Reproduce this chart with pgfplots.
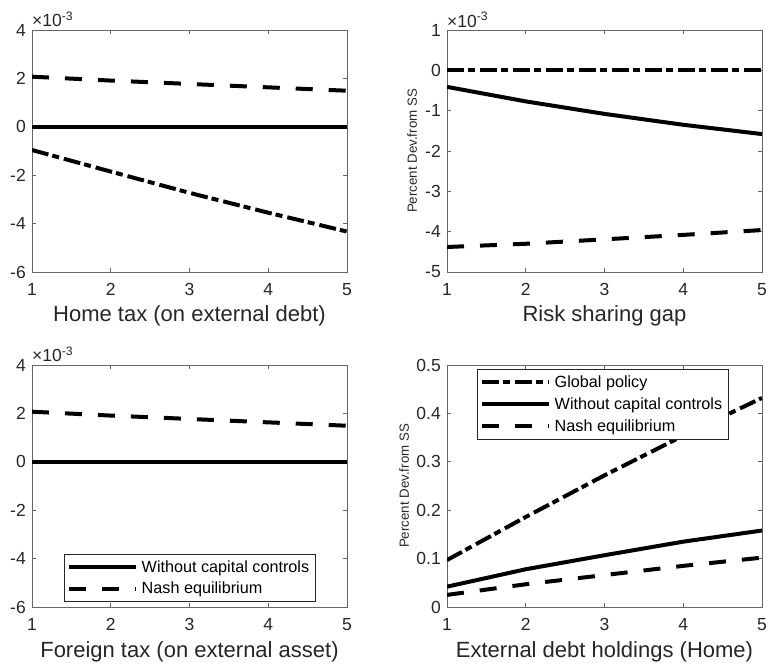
\documentclass[border=0pt]{standalone}
\usepackage{fontspec}
\setmainfont{Liberation Sans}
\usepackage{pgfplots}
\pgfplotsset{compat=1.18}
\tikzset{sclab/.style={anchor=base west, inner sep=0pt, font=\fontsize{17.5}{20}\selectfont, text=black!85}}
\pgfplotsset{
  mat/.style={
    scale only axis, width=315pt, height=242pt,
    xmin=1, xmax=5, xtick={1,2,3,4,5},
    scaled y ticks=false, scaled x ticks=false,
    axis line style={black!60, line width=0.7pt},
    every tick/.style={black!60, line width=0.7pt},
    tick align=inside, major tick length=4pt,
    /pgf/number format/assume math mode=true,
    ticklabel style={font=\fontsize{17.5}{20}\selectfont, text=black!85, inner sep=0pt},
    xticklabel style={yshift=-11pt},
    yticklabel style={xshift=-6pt},
    xlabel style={at={(axis description cs:0.5,0)}, anchor=base, yshift=-50pt,
                  font=\fontsize{22}{26}\selectfont, text=black!85, inner sep=0pt},
    ylabel style={font=\fontsize{13.3}{16}\selectfont, text=black!85, inner sep=0pt},
    legend style={draw=black!85, line width=0.6pt, fill=white,
                  font=\fontsize{16.2}{19}\selectfont, inner xsep=3pt, inner ysep=2pt,
                  nodes={inner xsep=3.5pt, inner ysep=4.3pt, text=black}},
    legend cell align=left,
    legend image code/.code={\draw[#1] (0pt,0pt) -- (67pt,0pt);},
    clip=true, clip mode=individual,
  },
  glob/.style={black, line width=4pt, dash pattern=on 17pt off 4pt on 7pt off 5pt},
  woc/.style={black, line width=4pt, solid},
  nash/.style={black, line width=4pt, dash pattern=on 17pt off 16pt},
}
\begin{document}
\begin{tikzpicture}
\useasboundingbox (0,0) rectangle (768pt,667pt);
% Top left
\begin{axis}[mat, at={(32pt,395pt)}, anchor=south west,
  ymin=-0.006, ymax=0.004, ytick={-0.006,-0.004,-0.002,0,0.002,0.004},
  yticklabels={-6,-4,-2,0,2,4}, xlabel={Home tax (on external debt)}]
\addplot[glob] coordinates {(1,-0.00096) (2,-0.00185) (3,-0.00273) (4,-0.00355) (5,-0.00433)};
\addplot[woc] coordinates {(1,0) (2,0) (3,0) (4,0) (5,0)};
\addplot[nash] coordinates {(1,0.00207) (2,0.00191) (3,0.00177) (4,0.00163) (5,0.00149)};
\node[sclab] at (rel axis cs:0,1) [yshift=3pt] {\texttimes10\textsuperscript{-3}};
\end{axis}
% Top right
\begin{axis}[mat, at={(447pt,395pt)}, anchor=south west,
  ymin=-0.005, ymax=0.001, ytick={-0.005,-0.004,-0.003,-0.002,-0.001,0,0.001},
  yticklabels={-5,-4,-3,-2,-1,0,1}, xlabel={Risk sharing gap},
  ylabel={Percent Dev.from SS},
  ylabel style={at={(axis description cs:-0.111,0.5)}, anchor=center}]
\addplot[glob] coordinates {(1,0) (2,0) (3,0) (4,0) (5,0)};
\addplot[woc] coordinates {(1,-0.00041) (2,-0.00077) (3,-0.00108) (4,-0.00135) (5,-0.00158)};
\addplot[nash] coordinates {(1,-0.00438) (2,-0.00430) (3,-0.00419) (4,-0.00408) (5,-0.00396)};
\node[sclab] at (rel axis cs:0,1) [yshift=3pt] {\texttimes10\textsuperscript{-3}};
\end{axis}
% Bottom left
\begin{axis}[mat, at={(32pt,60pt)}, anchor=south west,
  ymin=-0.006, ymax=0.004, ytick={-0.006,-0.004,-0.002,0,0.002,0.004},
  yticklabels={-6,-4,-2,0,2,4}, xlabel={Foreign tax (on external asset)},
  legend style={at={(rel axis cs:0.9016,0.0207)}, anchor=south east}]
\addplot[woc] coordinates {(1,0) (2,0) (3,0) (4,0) (5,0)};
\addlegendentry{Without capital controls}
\addplot[nash] coordinates {(1,0.00207) (2,0.00191) (3,0.00177) (4,0.00163) (5,0.00149)};
\addlegendentry{Nash equilibrium}
\node[sclab] at (rel axis cs:0,1) [yshift=3pt] {\texttimes10\textsuperscript{-3}};
\end{axis}
% Bottom right
\begin{axis}[mat, at={(447pt,60pt)}, anchor=south west,
  ymin=0, ymax=0.5, ytick={0,0.1,0.2,0.3,0.4,0.5},
  yticklabels={0,0.1,0.2,0.3,0.4,0.5}, xlabel={External debt holdings (Home)},
  ylabel={Percent Dev.from SS},
  ylabel style={at={(axis description cs:-0.136,0.5)}, anchor=center},
  legend style={at={(rel axis cs:0.095,0.983)}, anchor=north west}]
\addplot[glob] coordinates {(1,0.097) (2,0.186) (3,0.272) (4,0.354) (5,0.432)};
\addlegendentry{Global policy}
\addplot[woc] coordinates {(1,0.042) (2,0.078) (3,0.107) (4,0.135) (5,0.158)};
\addlegendentry{Without capital controls}
\addplot[nash] coordinates {(1,0.025) (2,0.047) (3,0.066) (4,0.085) (5,0.102)};
\addlegendentry{Nash equilibrium}
\end{axis}
\end{tikzpicture}
\end{document}
